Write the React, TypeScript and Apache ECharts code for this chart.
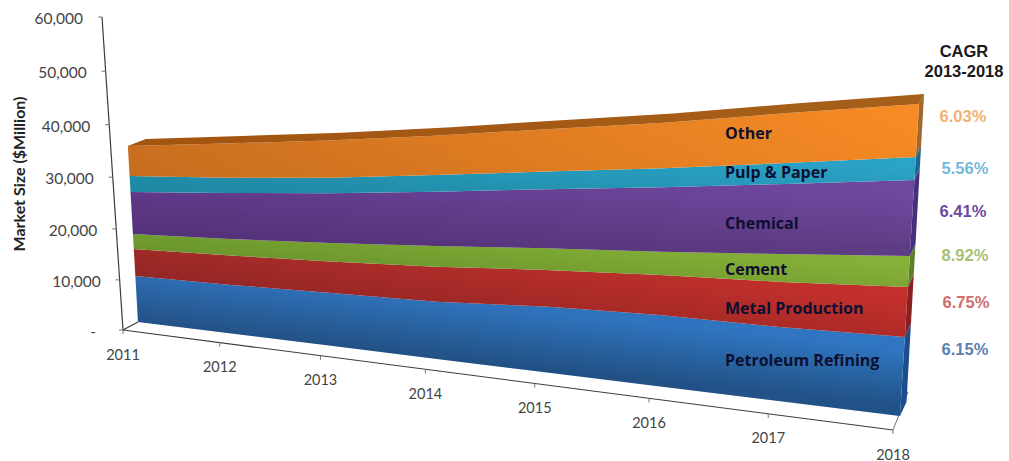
import React, { useEffect, useRef } from "react";
import * as echarts from "echarts";

const years = ["2011", "2012", "2013", "2014", "2015", "2016", "2017", "2018"];
const valueTicks = [0, 10000, 20000, 30000, 40000, 50000, 60000];

const petroleum = [9200, 9600, 10250, 10800, 12150, 12900, 13100, 13750];
const metal = [5350, 5700, 5950, 6520, 6690, 7130, 7860, 8530];
const cement = [2950, 3200, 3530, 3820, 3920, 4110, 4820, 5220];
const chemical = [8190, 8780, 9290, 9920, 10520, 11220, 11900, 12580];
const pulp = [3090, 2900, 2830, 3010, 3110, 3270, 3520, 3760];
const other = [5760, 6420, 6840, 7050, 7400, 7770, 8290, 8550];

const layerNames = ["Petroleum Refining", "Metal Production", "Cement", "Chemical", "Pulp & Paper", "Other"];
const cagrLabels = ["6.15%", "6.75%", "8.92%", "6.41%", "5.56%", "6.03%"];

const layers = [petroleum, metal, cement, chemical, pulp, other];

const layerFill = [
  { left: "#2f6fb6", right: "#2f76c2", side: "#1c4d8c", shade: 0.3 },
  { left: "#a02a28", right: "#c5302c", side: "#8a1f22", shade: 0.1 },
  { left: "#6f9c2e", right: "#87b138", side: "#5f7f28", shade: 0.06 },
  { left: "#60398a", right: "#70489e", side: "#46307e", shade: 0.16 },
  { left: "#1f8aa6", right: "#2ba4c8", side: "#1a6a90", shade: 0.04 },
  { left: "#c96f1f", right: "#f88b24", side: "#a0682c", shade: 0.02 },
];

const layerLabelRows = [360, 308, 269, 223, 172, 133];
const cagrRows = [
  { y: 349, x: 965, fill: "#5a80b2" },
  { y: 302, x: 966, fill: "#d06c6a" },
  { y: 255, x: 965, fill: "#a6c16f" },
  { y: 211, x: 963, fill: "#6b4b9b" },
  { y: 168, x: 965, fill: "#74b9d8" },
  { y: 116, x: 963, fill: "#f1b272" },
];

type Pt = [number, number];

// Perspective corners of the front plane of the stacked areas (bottom-left, bottom-right, top-right, top-left).
const q0: Pt = [138, 322];
const q1: Pt = [900, 416];
const q2: Pt = [922, 56];
const q3: Pt = [120, 10];

const den = (q1[0] - q2[0]) * (q3[1] - q2[1]) - (q3[0] - q2[0]) * (q1[1] - q2[1]);
const sx = q0[0] - q1[0] + q2[0] - q3[0];
const sy = q0[1] - q1[1] + q2[1] - q3[1];
const g = (sx * (q3[1] - q2[1]) - (q3[0] - q2[0]) * sy) / den;
const h = ((q1[0] - q2[0]) * sy - sx * (q1[1] - q2[1])) / den;

const toPlane = (u: number, v: number): Pt => {
  const w = 1 + g * u + h * v;
  return [
    ((q1[0] - q0[0] + g * q1[0]) * u + (q3[0] - q0[0] + h * q3[0]) * v + q0[0]) / w,
    ((q1[1] - q0[1] + g * q1[1]) * u + (q3[1] - q0[1] + h * q3[1]) * v + q0[1]) / w,
  ];
};

const lerp = (a: number, b: number, t: number) => a + (b - a) * t;

// Cartesian pixel from the hidden axes -> unit square -> perspective plane.
const projector = (params: any, api: any) => {
  const r = params.coordSys;
  return (yearIndex: number, value: number) => {
    const c = api.coord([years[yearIndex], value]);
    const u = (c[0] - r.x) / r.width;
    const v = (r.y + r.height - c[1]) / r.height;
    return { u, v, p: toPlane(u, v) };
  };
};

// The axis frame stands slightly in front of the areas.
const toAxisPlane = (a: { u: number; v: number; p: Pt }): Pt => [
  a.p[0] + lerp(-15, -7, a.u) - 3 * a.v,
  a.p[1] + lerp(8, 14, a.u) - a.v,
];

const stackBelow = (layer: number, i: number) => {
  let sum = 0;
  for (let k = 0; k < layer; k++) sum += layers[k][i];
  return sum;
};

const tickFont = "15.5px Lato";

const renderAxes = (params: any, api: any) => {
  const at = projector(params, api);
  const stroke = { stroke: "#3c3c3c", lineWidth: 1.2 };
  const children: any[] = [];
  const origin = toAxisPlane(at(0, 0));
  const yTop = toAxisPlane(at(0, 60000));
  const xEnd = toAxisPlane(at(7, 0));
  const line = (a: Pt, b: Pt, style: any = stroke) => ({
    type: "line",
    shape: { x1: a[0], y1: a[1], x2: b[0], y2: b[1] },
    style,
  });
  children.push(line(origin, yTop));
  children.push(line(origin, xEnd));
  children.push(line(origin, at(0, 0).p));
  children.push(line(xEnd, [xEnd[0] + 15, xEnd[1] - 38], { stroke: "#777", lineWidth: 1 }));
  children.push(line([xEnd[0] + 15, xEnd[1] - 38], [xEnd[0] + 11, xEnd[1] - 37], { stroke: "#777", lineWidth: 1 }));

  valueTicks.forEach((tick) => {
    const a = toAxisPlane(at(0, tick));
    children.push(line([a[0] - 4, a[1]], a, { stroke: "#777", lineWidth: 1 }));
    children.push({
      type: "text",
      x: tick === 0 ? a[0] - 27 : a[0] - 19,
      y: a[1] + 1,
      style: {
        text: tick === 0 ? "-" : tick.toLocaleString("en-US"),
        font: tickFont,
        fill: "#444",
        textAlign: "right",
        textVerticalAlign: "middle",
      },
    });
  });

  years.forEach((year, i) => {
    const a = toAxisPlane(at(i, 0));
    children.push(line(a, [a[0], a[1] + 4], { stroke: "#777", lineWidth: 1 }));
    children.push({
      type: "text",
      x: a[0],
      y: a[1] + 24,
      style: {
        text: year,
        font: "14.5px Lato",
        fill: "#444",
        textAlign: "center",
        textVerticalAlign: "middle",
      },
    });
  });
  return { type: "group", children };
};

const renderLayer = (layer: number) => (params: any, api: any) => {
  const at = projector(params, api);
  const spec = layerFill[layer];
  const lower = years.map((_, i) => at(i, stackBelow(layer, i)).p);
  const upper = years.map((_, i) => at(i, stackBelow(layer + 1, i)).p);
  const band: Pt[] = [...upper, ...lower.slice().reverse()];
  const children: any[] = [];

  // Narrow side wall at the last year.
  const n = years.length - 1;
  const topTotal = stackBelow(layers.length, n);
  const sideOffset = (value: number): Pt => {
    const t = value / topTotal;
    return [lerp(6.5, 5, t), lerp(-14, -10, t)];
  };
  const lowV = stackBelow(layer, n);
  const highV = stackBelow(layer + 1, n);
  const so0 = sideOffset(lowV);
  const so1 = sideOffset(highV);
  children.push({
    type: "polygon",
    shape: {
      points: [
        lower[n],
        upper[n],
        [upper[n][0] + so1[0], upper[n][1] + so1[1]],
        [lower[n][0] + so0[0], lower[n][1] + so0[1]],
      ],
    },
    style: { fill: spec.side },
  });

  children.push({
    type: "polygon",
    shape: { points: band },
    style: {
      fill: new echarts.graphic.LinearGradient(0, 0, 1, 0, [
        { offset: 0, color: spec.left },
        { offset: 1, color: spec.right },
      ]),
    },
  });

  // Soft shading across the band, running from its upper edge to its lower edge.
  const topMid = upper[3];
  const botMid = lower[3];
  const slope = (upper[n][1] + lower[n][1] - upper[0][1] - lower[0][1]) / 2 / (upper[n][0] - upper[0][0]);
  const thick = botMid[1] - topMid[1];
  const dx = (-slope * thick) / (1 + slope * slope);
  const dy = thick / (1 + slope * slope);
  children.push({
    type: "polygon",
    shape: { points: band },
    style: {
      fill: new echarts.graphic.LinearGradient(
        topMid[0],
        topMid[1],
        topMid[0] + dx,
        topMid[1] + dy,
        [
          { offset: 0, color: "rgba(0,0,0,0)" },
          { offset: 1, color: `rgba(0,0,0,${spec.shade})` },
        ],
        true
      ),
    },
  });

  // Top surface of the whole stack.
  if (layer === layers.length - 1) {
    const back: Pt[] = upper.map((p, i) => {
      const t = i / n;
      return [p[0] + lerp(18, 5, t), p[1] + lerp(-7, -10, t)];
    });
    children.push({
      type: "polygon",
      shape: { points: [...back, ...upper.slice().reverse()] },
      style: {
        fill: new echarts.graphic.LinearGradient(0, 0, 1, 0, [
          { offset: 0, color: "#a3540f" },
          { offset: 1, color: "#a5601a" },
        ]),
      },
    });
  }
  return { type: "group", children };
};

export default function App() {
  const ref = useRef<HTMLDivElement>(null);
  useEffect(() => {
    const chart = echarts.init(ref.current!, undefined, { renderer: "svg" });
    chart.setOption({
      animation: false,
      backgroundColor: "#ffffff",
      grid: { left: 0, right: 0, top: 0, bottom: 0 },
      xAxis: { type: "category", data: years, boundaryGap: false, show: false },
      yAxis: { type: "value", min: 0, max: 60000, interval: 10000, show: false },
      series: [
        {
          type: "custom",
          name: "Axes",
          coordinateSystem: "cartesian2d",
          clip: false,
          silent: true,
          data: [[years[0], 0]],
          renderItem: renderAxes,
          z: 1,
        },
        ...layerNames.map((name, layer) => ({
          type: "custom",
          name,
          coordinateSystem: "cartesian2d",
          clip: false,
          silent: true,
          data: [[years[0], layers[layer][0]]],
          renderItem: renderLayer(layer),
          z: 2,
        })),
      ],
      graphic: {
        elements: [
          {
            type: "text",
            x: 18,
            y: 174,
            rotation: Math.PI / 2,
            style: {
              text: "Market Size ($Million)",
              font: "bold 16px Lato",
              fill: "#222",
              textAlign: "center",
              textVerticalAlign: "middle",
            },
          },
          ...layerNames.map((name, i) => ({
            type: "text",
            x: 725,
            y: layerLabelRows[i],
            z: 10,
            style: {
              text: name,
              font: "bold 16px 'Open Sans'",
              fill: "#0c1030",
              textAlign: "left",
              textVerticalAlign: "middle",
            },
          })),
          {
            type: "text",
            x: 964,
            y: 51,
            style: {
              text: "CAGR",
              font: "bold 16.5px 'Liberation Sans'",
              fill: "#1a1a1a",
              textAlign: "center",
              textVerticalAlign: "middle",
            },
          },
          {
            type: "text",
            x: 964,
            y: 71,
            style: {
              text: "2013-2018",
              font: "bold 16.5px 'Liberation Sans'",
              fill: "#1a1a1a",
              textAlign: "center",
              textVerticalAlign: "middle",
            },
          },
          ...cagrLabels.map((label, i) => ({
            type: "text",
            x: cagrRows[i].x,
            y: cagrRows[i].y,
            style: {
              text: label,
              font: "bold 16.5px 'Liberation Sans'",
              fill: cagrRows[i].fill,
              textAlign: "center",
              textVerticalAlign: "middle",
            },
          })),
        ],
      },
    });
    return () => chart.dispose();
  }, []);
  return <div ref={ref} style={{ position: "fixed", left: 0, top: 0, width: 1009, height: 461 }} />;
}
